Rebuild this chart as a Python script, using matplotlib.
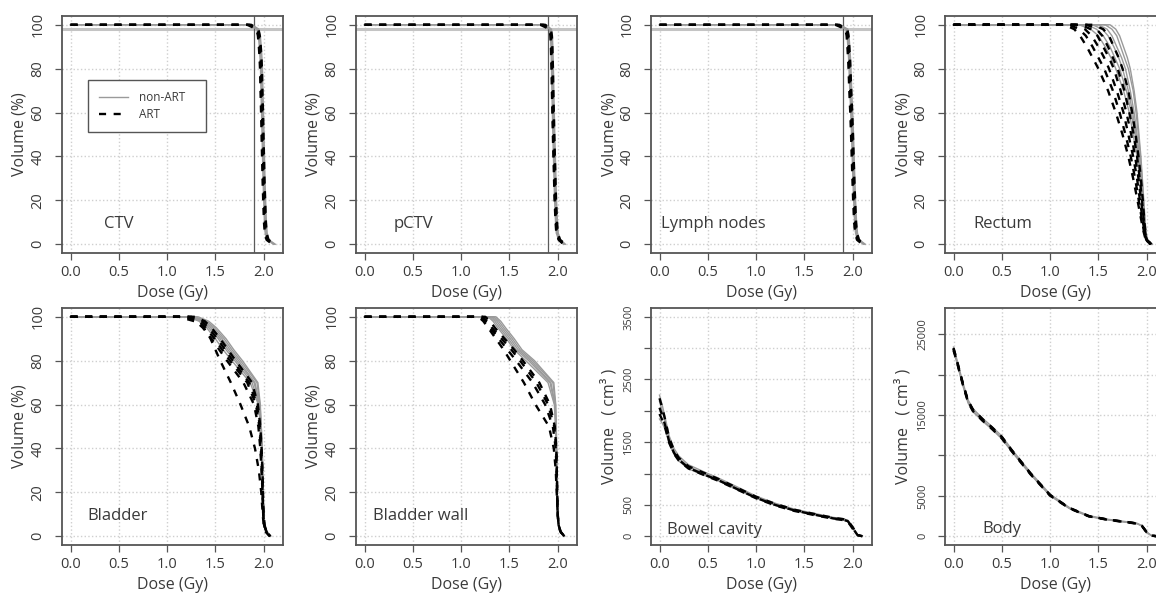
import matplotlib
matplotlib.use("Agg")
import matplotlib.pyplot as plt
from matplotlib.lines import Line2D

plt.rcParams['font.family'] = ['Open Sans', 'DejaVu Sans']

# ---------------------------------------------------------------------------
# Relative DVHs: dose (Gy) reached at each volume level (%).
# The first entry of every curve is its start at 0 Gy / 100 %.
vol_levels = [100, 100, 98, 95, 90, 85, 80, 70, 60, 50, 40, 30, 20, 10, 5, 2, 0]

ctv_non_art = [
    [0, 1.86, 1.940, 1.955, 1.965, 1.972, 1.977, 1.982, 1.988, 1.993, 1.998, 2.003, 2.010, 2.018, 2.026, 2.045, 2.11],
    [0, 1.88, 1.950, 1.965, 1.975, 1.982, 1.987, 1.992, 1.998, 2.003, 2.008, 2.013, 2.020, 2.028, 2.036, 2.055, 2.12],
    [0, 1.84, 1.930, 1.945, 1.955, 1.962, 1.967, 1.972, 1.978, 1.983, 1.988, 1.993, 2.000, 2.008, 2.016, 2.035, 2.10],
]
ctv_art = [
    [0, 1.85, 1.935, 1.950, 1.960, 1.967, 1.972, 1.977, 1.983, 1.988, 1.993, 1.998, 2.005, 2.013, 2.021, 2.040, 2.11],
    [0, 1.87, 1.945, 1.960, 1.970, 1.977, 1.982, 1.987, 1.993, 1.998, 2.003, 2.008, 2.015, 2.023, 2.031, 2.050, 2.12],
    [0, 1.83, 1.925, 1.940, 1.950, 1.957, 1.962, 1.967, 1.973, 1.978, 1.983, 1.988, 1.995, 2.003, 2.011, 2.030, 2.09],
]

pctv_non_art = [
    [0, 1.86, 1.925, 1.935, 1.940, 1.943, 1.946, 1.950, 1.955, 1.960, 1.966, 1.972, 1.978, 1.988, 1.996, 2.020, 2.07],
    [0, 1.88, 1.935, 1.945, 1.950, 1.953, 1.956, 1.960, 1.965, 1.970, 1.976, 1.982, 1.988, 1.998, 2.006, 2.030, 2.08],
    [0, 1.84, 1.915, 1.925, 1.930, 1.933, 1.936, 1.940, 1.945, 1.950, 1.956, 1.962, 1.968, 1.978, 1.986, 2.010, 2.06],
]
pctv_art = [
    [0, 1.85, 1.920, 1.930, 1.935, 1.938, 1.941, 1.945, 1.950, 1.955, 1.961, 1.967, 1.973, 1.983, 1.991, 2.015, 2.07],
    [0, 1.87, 1.930, 1.940, 1.945, 1.948, 1.951, 1.955, 1.960, 1.965, 1.971, 1.977, 1.983, 1.993, 2.001, 2.025, 2.08],
    [0, 1.82, 1.915, 1.925, 1.930, 1.933, 1.936, 1.940, 1.945, 1.950, 1.956, 1.962, 1.968, 1.978, 1.986, 2.010, 2.06],
]

lymph_non_art = [
    [0, 1.85, 1.940, 1.952, 1.960, 1.967, 1.972, 1.980, 1.990, 1.998, 2.005, 2.012, 2.020, 2.030, 2.040, 2.060, 2.12],
    [0, 1.87, 1.950, 1.962, 1.970, 1.977, 1.982, 1.990, 2.000, 2.008, 2.015, 2.022, 2.030, 2.040, 2.050, 2.070, 2.13],
    [0, 1.83, 1.930, 1.942, 1.950, 1.957, 1.962, 1.970, 1.980, 1.988, 1.995, 2.002, 2.010, 2.020, 2.030, 2.050, 2.11],
]
lymph_art = [
    [0, 1.84, 1.935, 1.947, 1.955, 1.962, 1.967, 1.975, 1.985, 1.993, 2.000, 2.007, 2.015, 2.025, 2.035, 2.055, 2.12],
    [0, 1.86, 1.945, 1.957, 1.965, 1.972, 1.977, 1.985, 1.995, 2.003, 2.010, 2.017, 2.025, 2.035, 2.045, 2.065, 2.12],
    [0, 1.82, 1.925, 1.937, 1.945, 1.952, 1.957, 1.965, 1.975, 1.983, 1.990, 1.997, 2.005, 2.015, 2.025, 2.045, 2.10],
]

rectum_non_art = [
    [0, 1.62, 1.68, 1.72, 1.76, 1.80, 1.83, 1.87, 1.90, 1.920, 1.940, 1.955, 1.970, 1.985, 1.995, 2.010, 2.06],
    [0, 1.57, 1.64, 1.69, 1.73, 1.77, 1.81, 1.86, 1.89, 1.915, 1.935, 1.952, 1.967, 1.982, 1.993, 2.008, 2.05],
    [0, 1.50, 1.59, 1.64, 1.69, 1.74, 1.78, 1.83, 1.87, 1.900, 1.925, 1.945, 1.962, 1.980, 1.990, 2.005, 2.05],
    [0, 1.44, 1.54, 1.60, 1.66, 1.71, 1.75, 1.81, 1.855, 1.890, 1.915, 1.940, 1.958, 1.977, 1.988, 2.003, 2.05],
    [0, 1.38, 1.48, 1.55, 1.62, 1.67, 1.72, 1.79, 1.84, 1.880, 1.910, 1.935, 1.955, 1.975, 1.987, 2.000, 2.04],
    [0, 1.30, 1.42, 1.50, 1.57, 1.63, 1.68, 1.76, 1.82, 1.860, 1.900, 1.928, 1.950, 1.972, 1.985, 2.000, 2.04],
]
rectum_art = [
    [0, 1.15, 1.25, 1.31, 1.38, 1.44, 1.50, 1.60, 1.68, 1.750, 1.810, 1.860, 1.905, 1.948, 1.972, 1.990, 2.04],
    [0, 1.20, 1.30, 1.37, 1.44, 1.50, 1.56, 1.65, 1.72, 1.780, 1.835, 1.880, 1.918, 1.955, 1.975, 1.992, 2.04],
    [0, 1.26, 1.36, 1.43, 1.50, 1.56, 1.61, 1.69, 1.76, 1.810, 1.860, 1.900, 1.930, 1.962, 1.980, 1.995, 2.04],
    [0, 1.32, 1.42, 1.49, 1.55, 1.61, 1.66, 1.73, 1.79, 1.840, 1.880, 1.915, 1.942, 1.968, 1.982, 1.997, 2.04],
    [0, 1.38, 1.48, 1.54, 1.60, 1.65, 1.70, 1.77, 1.82, 1.865, 1.900, 1.928, 1.952, 1.972, 1.985, 2.000, 2.05],
    [0, 1.45, 1.55, 1.61, 1.66, 1.71, 1.75, 1.81, 1.85, 1.885, 1.915, 1.940, 1.960, 1.977, 1.988, 2.002, 2.05],
]

bladder_non_art = [
    [0, 1.32, 1.43, 1.51, 1.61, 1.69, 1.78, 1.94, 1.965, 1.975, 1.985, 1.990, 1.995, 2.000, 2.010, 2.030, 2.07],
    [0, 1.29, 1.41, 1.49, 1.59, 1.67, 1.76, 1.93, 1.962, 1.975, 1.984, 1.990, 1.995, 2.000, 2.010, 2.030, 2.07],
    [0, 1.27, 1.39, 1.47, 1.57, 1.65, 1.74, 1.91, 1.958, 1.972, 1.982, 1.988, 1.994, 2.000, 2.010, 2.030, 2.07],
    [0, 1.25, 1.37, 1.45, 1.55, 1.63, 1.72, 1.90, 1.955, 1.970, 1.980, 1.988, 1.993, 2.000, 2.010, 2.030, 2.06],
    [0, 1.23, 1.35, 1.43, 1.53, 1.61, 1.70, 1.88, 1.950, 1.970, 1.980, 1.987, 1.993, 2.000, 2.010, 2.030, 2.06],
    [0, 1.21, 1.33, 1.41, 1.50, 1.58, 1.67, 1.86, 1.945, 1.968, 1.979, 1.986, 1.992, 2.000, 2.010, 2.030, 2.06],
]
bladder_art = [
    [0, 1.22, 1.33, 1.40, 1.49, 1.57, 1.65, 1.83, 1.920, 1.955, 1.970, 1.980, 1.990, 1.995, 2.005, 2.030, 2.07],
    [0, 1.25, 1.36, 1.43, 1.52, 1.60, 1.68, 1.85, 1.930, 1.960, 1.975, 1.985, 1.990, 1.995, 2.005, 2.030, 2.07],
    [0, 1.28, 1.39, 1.46, 1.55, 1.63, 1.71, 1.88, 1.940, 1.965, 1.978, 1.987, 1.993, 2.000, 2.010, 2.030, 2.07],
    [0, 1.19, 1.30, 1.37, 1.46, 1.54, 1.62, 1.79, 1.900, 1.945, 1.965, 1.978, 1.988, 1.995, 2.005, 2.030, 2.07],
    [0, 1.12, 1.28, 1.38, 1.45, 1.50, 1.55, 1.66, 1.760, 1.850, 1.910, 1.950, 1.975, 1.990, 2.000, 2.020, 2.06],
]

bladder_wall_non_art = [
    [0, 1.36, 1.41, 1.46, 1.55, 1.63, 1.76, 1.96, 1.980, 1.985, 1.990, 1.993, 1.996, 2.000, 2.010, 2.030, 2.07],
    [0, 1.34, 1.39, 1.44, 1.53, 1.61, 1.74, 1.95, 1.977, 1.984, 1.989, 1.992, 1.995, 2.000, 2.010, 2.030, 2.07],
    [0, 1.32, 1.37, 1.42, 1.51, 1.59, 1.72, 1.93, 1.973, 1.982, 1.987, 1.991, 1.995, 2.000, 2.010, 2.030, 2.07],
    [0, 1.30, 1.35, 1.40, 1.49, 1.57, 1.70, 1.92, 1.970, 1.980, 1.986, 1.990, 1.994, 2.000, 2.010, 2.030, 2.06],
    [0, 1.28, 1.33, 1.38, 1.47, 1.55, 1.67, 1.90, 1.965, 1.978, 1.985, 1.990, 1.994, 2.000, 2.010, 2.030, 2.06],
]
bladder_wall_art = [
    [0, 1.22, 1.27, 1.32, 1.42, 1.52, 1.61, 1.78, 1.900, 1.965, 1.985, 1.990, 1.995, 2.000, 2.010, 2.030, 2.07],
    [0, 1.25, 1.30, 1.35, 1.45, 1.55, 1.64, 1.81, 1.920, 1.970, 1.986, 1.991, 1.995, 2.000, 2.010, 2.030, 2.07],
    [0, 1.20, 1.25, 1.30, 1.39, 1.48, 1.57, 1.74, 1.870, 1.950, 1.980, 1.988, 1.994, 2.000, 2.010, 2.030, 2.07],
    [0, 1.18, 1.23, 1.28, 1.36, 1.44, 1.51, 1.65, 1.770, 1.910, 1.960, 1.980, 1.990, 2.000, 2.010, 2.030, 2.07],
]

# ---------------------------------------------------------------------------
# Absolute DVHs: volume (cm3) at each dose level (Gy).
dose_grid = [0, 0.03, 0.06, 0.1, 0.15, 0.2, 0.3, 0.4, 0.5, 0.6, 0.8, 1.0,
             1.2, 1.4, 1.6, 1.8, 1.9, 1.95, 2.0, 2.05, 2.1]

bowel_non_art = [
    [2250, 2080, 1880, 1600, 1400, 1280, 1140, 1070, 1000, 935, 790, 640, 525, 430, 365, 300, 280, 255, 150, 25, 0],
    [2150, 1990, 1820, 1550, 1360, 1245, 1110, 1045, 980, 915, 770, 625, 510, 420, 355, 292, 272, 248, 140, 22, 0],
    [1870, 1800, 1700, 1480, 1310, 1200, 1075, 1010, 950, 890, 745, 605, 492, 405, 340, 280, 260, 236, 125, 18, 0],
]
bowel_art = [
    [2200, 2040, 1850, 1570, 1370, 1250, 1115, 1050, 985, 920, 775, 630, 515, 422, 356, 294, 273, 250, 145, 22, 0],
    [2050, 1920, 1760, 1510, 1330, 1220, 1090, 1025, 960, 900, 755, 612, 498, 410, 345, 284, 264, 240, 130, 18, 0],
    [1950, 1850, 1720, 1490, 1315, 1205, 1080, 1015, 950, 890, 748, 605, 490, 402, 338, 278, 258, 232, 120, 15, 0],
]

body_non_art = [
    [23400, 22100, 20700, 18900, 16900, 15800, 14600, 13550, 12400, 10800, 7850, 5200, 3550, 2550, 2090, 1780, 1600, 1320, 520, 80, 0],
    [23100, 21850, 20450, 18650, 16650, 15550, 14350, 13300, 12150, 10600, 7650, 5050, 3450, 2470, 2030, 1720, 1560, 1280, 480, 70, 0],
    [22900, 21700, 20300, 18500, 16500, 15400, 14250, 13200, 12050, 10500, 7600, 5000, 3420, 2440, 2010, 1700, 1540, 1260, 460, 60, 0],
]
body_art = [
    [23300, 22000, 20600, 18800, 16800, 15700, 14500, 13450, 12300, 10700, 7750, 5100, 3500, 2500, 2060, 1750, 1580, 1300, 500, 80, 0],
    [23000, 21800, 20400, 18600, 16600, 15500, 14300, 13250, 12100, 10550, 7620, 5020, 3440, 2460, 2020, 1710, 1550, 1270, 470, 70, 0],
    [23200, 21950, 20550, 18750, 16750, 15650, 14450, 13400, 12250, 10650, 7700, 5080, 3480, 2480, 2040, 1730, 1570, 1290, 490, 75, 0],
]

vol_ticks_pct = [0, 20, 40, 60, 80, 100]
bowel_ticks = [0, 500, 1000, 1500, 2000, 2500, 3000, 3500]
bowel_tick_labels = ["0", "500", "", "1500", "", "2500", "", "3500"]
body_ticks = [0, 5000, 10000, 15000, 20000, 25000]
body_tick_labels = ["0", "5000", "", "15000", "", "25000"]
dose_ticks = [0.0, 0.5, 1.0, 1.5, 2.0]
dose_tick_labels = ["0.0", "0.5", "1.0", "1.5", "2.0"]

target_dose_ref = 1.9     # 95 % of the 2 Gy fraction dose
target_volume_ref = 98    # coverage level

# ---------------------------------------------------------------------------
W, H = 1156, 596
fig = plt.figure(figsize=(W / 100, H / 100), dpi=100)

col_left = [62, 356, 651, 945]
row_top = [16, 308]
ax_w, ax_h = 221, 237

TEXT = "#3a3a3a"
GREY = "#9a9a9a"
GRID = "#cfcfcf"
FRAME = "#555555"


def make_axes(row, col):
    left = col_left[col] / W
    bottom = (H - row_top[row] - ax_h) / H
    return fig.add_axes([left, bottom, ax_w / W, ax_h / H])


def style_axes(ax, yticks, yticklabels, ylim, ylabel):
    ax.set_xlim(-0.088, 2.2)
    ax.set_ylim(*ylim)
    ax.set_xticks(dose_ticks)
    ax.set_xticklabels(dose_tick_labels)
    ax.set_yticks(yticks)
    ax.set_yticklabels(yticklabels)
    ax.tick_params(axis="both", direction="out", length=5, width=0.9,
                   color=FRAME, labelcolor=TEXT, labelsize=10.5)
    ax.tick_params(axis="x", pad=4)
    ax.tick_params(axis="y", pad=7, labelrotation=90)
    for lab in ax.get_yticklabels():
        lab.set_va("center")
    for sp in ax.spines.values():
        sp.set_color(FRAME)
        sp.set_linewidth(1.3)
    ax.grid(True, color=GRID, linestyle=":", linewidth=1.0, zorder=0)
    ax.set_axisbelow(True)
    ax.set_xlabel("Dose (Gy)", fontsize=11.5, color=TEXT, va="center")
    ax.xaxis.set_label_coords(0.5, -40 / ax_h)
    ax.set_ylabel(ylabel, fontsize=11.5, color=TEXT, va="center")
    ax.yaxis.set_label_coords(-42 / ax_w, 0.5)


def draw_curves(ax, non_art_xy, art_xy):
    for x, y in non_art_xy:
        ax.plot(x, y, color=GREY, lw=1.0, zorder=3, solid_joinstyle="round")
    for x, y in art_xy:
        ax.plot(x, y, color="black", lw=1.7, dashes=(3.0, 3.2), zorder=4)


relative = [
    ("CTV", ctv_non_art, ctv_art, 0, 0, True, 0.50),
    ("pCTV", pctv_non_art, pctv_art, 0, 1, True, 0.51),
    ("Lymph nodes", lymph_non_art, lymph_art, 0, 2, True, 0.56),
    ("Rectum", rectum_non_art, rectum_art, 0, 3, False, 0.51),
    ("Bladder", bladder_non_art, bladder_art, 1, 0, False, 0.49),
    ("Bladder wall", bladder_wall_non_art, bladder_wall_art, 1, 1, False, 0.58),
]

axes = []
for name, non_art, art, r, c, is_target, lx in relative:
    ax = make_axes(r, c)
    style_axes(ax, vol_ticks_pct, [str(v) for v in vol_ticks_pct], (-4, 104), "Volume (%)")
    if is_target:
        ax.axhline(target_volume_ref, color="#c4c4c4", lw=2.2, zorder=1)
        ax.axvline(target_dose_ref, color="#5a5a5a", lw=0.9, zorder=2)
    draw_curves(ax,
                [(d, vol_levels) for d in non_art],
                [(d, vol_levels) for d in art])
    ax.text(lx, 9, name, ha="center", va="center", fontsize=12, color=TEXT, zorder=5)
    axes.append(ax)

absolute = [
    ("Bowel cavity", bowel_non_art, bowel_art, 1, 2, bowel_ticks, bowel_tick_labels,
     (-140, 3640), 0.57, 107),
    ("Body", body_non_art, body_art, 1, 3, body_ticks, body_tick_labels,
     (-1090, 28240), 0.50, 950),
]
for name, non_art, art, r, c, ticks, labels, ylim, lx, ly in absolute:
    ax = make_axes(r, c)
    style_axes(ax, ticks, labels, ylim, "Volume   ( cm³ )")
    for lab in ax.get_yticklabels():
        lab.set_fontsize(8)
    draw_curves(ax,
                [(dose_grid, v) for v in non_art],
                [(dose_grid, v) for v in art])
    ax.text(lx, ly, name, ha="center", va="center", fontsize=12, color=TEXT, zorder=5)
    axes.append(ax)

# Legend in the first panel
handles = [Line2D([], [], color=GREY, lw=1.0),
           Line2D([], [], color="black", lw=1.7, dashes=(3.0, 3.2))]
leg = axes[0].legend(handles, ["non-ART", "ART"],
                     loc="upper left", bbox_to_anchor=(26 / ax_w, 173 / ax_h, 118 / ax_w, 0),
                     mode="expand", fontsize=8.5, frameon=True, fancybox=False,
                     edgecolor=FRAME, framealpha=1, borderpad=0.95, labelspacing=0.32,
                     handlelength=2.4, handletextpad=1.0, borderaxespad=0)
leg.get_frame().set_linewidth(1.0)
for t in leg.get_texts():
    t.set_color(TEXT)

fig.savefig("out.png", dpi=100)
